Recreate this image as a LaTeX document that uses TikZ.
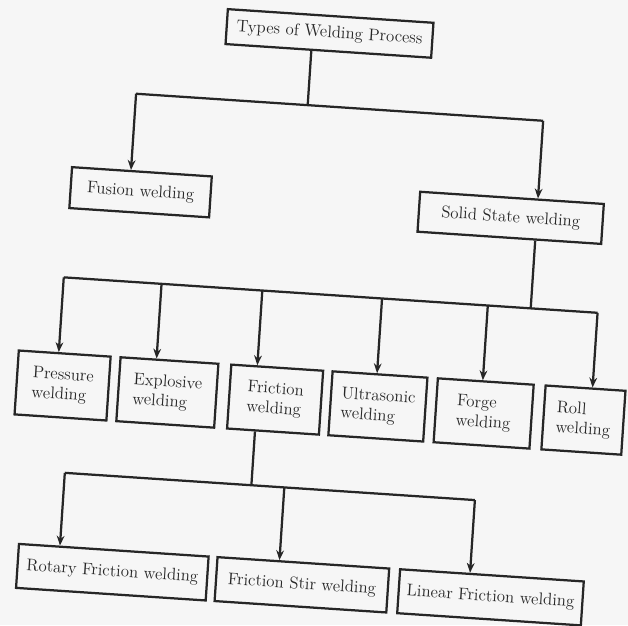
\documentclass[tikz,border=0pt]{standalone}
\usepackage{tikz}
\usetikzlibrary{arrows.meta,calc}
\definecolor{paper}{HTML}{F6F6F6}
\definecolor{ink}{HTML}{262626}

\begin{document}
\begin{tikzpicture}[x=0.025cm,y=-0.025cm,font=\fontsize{12}{14}\selectfont,
  box/.style={draw=ink,line width=1.6pt,text=ink,inner sep=2pt,align=left},
  line/.style={draw=ink,line width=1.6pt},
  arr/.style={line,-{Stealth[length=7pt,width=5.5pt]}}]
  \fill[paper] (0,0) rectangle (628,625);
  \useasboundingbox (0,0) rectangle (628,625);
  \begin{scope}[rotate around={-3.8:(314,312)},transform shape]
  \node[box,minimum width=5.15cm,minimum height=0.875cm] (types) at (311,33) {Types of Welding Process};
  \node[box,minimum width=3.5cm,minimum height=1.025cm] (fusion) at (133,204) {Fusion welding};
  \node[box,minimum width=4.6cm,minimum height=1cm] (solid) at (504,205) {Solid State welding};
  \coordinate (j1) at (294,106);
  \coordinate (b1l) at (122,106);
  \coordinate (b1r) at (530,106);
  \draw[line] (j1 |- types.south) -- (j1);
  \draw[line] (b1l) -- (b1r);
  \draw[arr] (b1l) -- (b1l |- fusion.north);
  \draw[arr] (b1r) -- (b1r |- solid.north);
  \coordinate (j2) at (530,294);
  \coordinate (b2l) at (62,294);
  \coordinate (b2r) at (597,294);
  \draw[line] (j2 |- solid.south) -- (j2);
  \draw[line] (b2l) -- (b2r);
  \foreach \n/\x/\d/\w/\t in {pressure/68/62/2.3/Pressure,explosive/173/160/2.45/Explosive,
    friction/281/261/2.3/Friction,ultrasonic/384/381/2.375/Ultrasonic,forge/490/487/2.4/Forge,roll/590/597/2.0/Roll}
  {
    \node[box,minimum width=\w cm,minimum height=1.6cm] (\n) at (\x,402) {\t\\welding};
    \coordinate (d\n) at (\d,294);
    \draw[arr] (d\n) -- (d\n |- \n.north);
  }
  \coordinate (j3) at (263,489);
  \coordinate (b3l) at (76,489);
  \coordinate (b3r) at (487,489);
  \draw[line] (j3 |- friction.south) -- (j3);
  \draw[line] (b3l) -- (b3r);
  \foreach \n/\x/\d/\w/\t in {rotary/130/76/4.75/Rotary Friction welding,stir/320/296/4.3/Friction Stir welding,
    linear/509/487/4.6/Linear Friction welding}
  {
    \node[box,minimum width=\w cm,minimum height=1.1cm] (\n) at (\x,585) {\t};
    \coordinate (d\n) at (\d,489);
    \draw[arr] (d\n) -- (d\n |- \n.north);
  }
  \end{scope}
\end{tikzpicture}
\end{document}
